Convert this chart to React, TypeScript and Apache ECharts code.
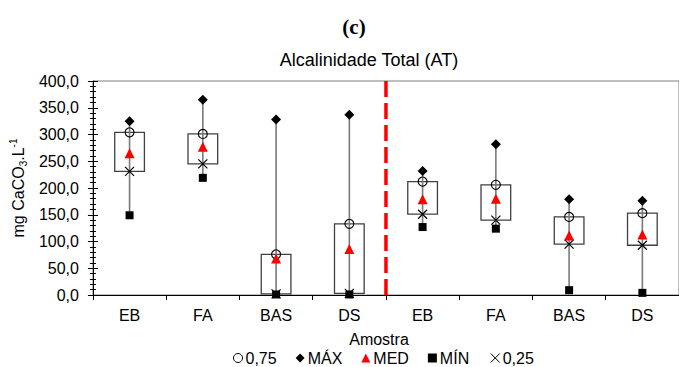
import React, { useEffect, useRef } from "react";
import * as echarts from "echarts";

// ---- data ----
const categories = ["EB", "FA", "BAS", "DS", "EB", "FA", "BAS", "DS"];
const maxValues = [325, 365, 328, 337, 232, 282, 179, 176];
const q3Values = [304, 301, 76, 133, 212, 206, 146, 153];
const medValues = [265, 277, 68, 86, 179, 180, 111, 113];
const q1Values = [231, 245, 2, 3, 151, 140, 95, 93];
const minValues = [149, 219, 1, 1, 127, 124, 9, 4];
const yTicks = [0, 50, 100, 150, 200, 250, 300, 350, 400];
const DIVIDER_AFTER = 3; // dashed line after the 4th category

const Y_MIN = yTicks[0];
const Y_MAX = yTicks[yTicks.length - 1];
const Y_INTERVAL = yTicks[1] - yTicks[0];

const FONT = "'Liberation Sans', Arial, sans-serif";
const X_PATH = "path://M0,0L10,10M10,0L0,10";

export default function App() {
  const ref = useRef<HTMLDivElement>(null);

  useEffect(() => {
    document.body.style.margin = "0";
    if (!ref.current) return;
    const chart = echarts.init(ref.current, null, { renderer: "svg" });

    const boxData = categories.map((_, i) => [i, minValues[i], maxValues[i], q1Values[i], q3Values[i]]);
    const pts = (arr: number[]) => arr.map((v, i) => [i, v]);

    const yAxisBase = {
      type: "value",
      min: Y_MIN,
      max: Y_MAX,
      interval: Y_INTERVAL,
      splitLine: { show: false },
    };

    const option: any = {
      animation: false,
      title: [
        {
          text: "(c)",
          left: 354,
          top: 16,
          padding: 0,
          textAlign: "center",
          textStyle: { fontFamily: "'Liberation Serif', 'Times New Roman', serif", fontWeight: "bold", fontSize: 21, color: "#000" },
        },
        {
          text: "Alcalinidade Total (AT)",
          left: 369,
          top: 51,
          padding: 0,
          textAlign: "center",
          textStyle: { fontFamily: FONT, fontWeight: "normal", fontSize: 18, color: "#000" },
        },
        {
          text: "Amostra",
          left: 379,
          top: 331,
          padding: 0,
          textAlign: "center",
          textStyle: { fontFamily: FONT, fontWeight: "normal", fontSize: 16, color: "#000" },
        },
      ],
      legend: {
        left: 233,
        top: 350,
        padding: 0,
        itemWidth: 9,
        itemHeight: 9,
        itemGap: 19,
        textStyle: { fontFamily: FONT, fontSize: 16, color: "#000", padding: [0, 0, 0, -2] },
        data: [
          { name: "0,75", icon: "circle", itemStyle: { color: "#fff", borderColor: "#000", borderWidth: 1, opacity: 1 } },
          { name: "MÁX", icon: "diamond", itemStyle: { color: "#000", borderWidth: 0, opacity: 1 } },
          { name: "MED", icon: "triangle", itemStyle: { color: "#ff0000", borderWidth: 0, opacity: 1 } },
          { name: "MÍN", icon: "rect", itemStyle: { color: "#000", borderWidth: 0, opacity: 1 } },
          { name: "0,25", icon: X_PATH, itemStyle: { color: "none", borderColor: "#000", borderWidth: 1, opacity: 1 } },
        ],
      },
      grid: {
        left: 91,
        top: 81,
        width: 598,
        height: 214,
        show: true,
        borderColor: "#7f7f7f",
        borderWidth: 1,
        backgroundColor: "transparent",
      },
      xAxis: {
        type: "category",
        data: categories,
        axisLine: { lineStyle: { color: "#000", width: 1 } },
        axisTick: { show: true, length: 5, lineStyle: { color: "#000" } },
        axisLabel: { fontFamily: FONT, fontSize: 16, color: "#000", margin: 12, interval: 0 },
        splitLine: { show: false },
      },
      yAxis: [
        {
          ...yAxisBase,
          name: "mg CaCO{sub|3}.L{sup|-1}",
          nameLocation: "middle",
          nameGap: 54,
          nameRotate: 90,
          nameTextStyle: {
            fontFamily: FONT,
            fontSize: 16,
            color: "#000",
            lineHeight: 20,
            rich: {
              sub: { fontFamily: FONT, fontSize: 10, color: "#000", lineHeight: 20, verticalAlign: "bottom", padding: [10, 0, 0, 0] },
              sup: { fontFamily: FONT, fontSize: 10, color: "#000", lineHeight: 20, verticalAlign: "top", padding: [0, 0, 8, 0] },
            },
          },
          axisLine: { show: true, lineStyle: { color: "#000", width: 1 } },
          axisTick: { show: true, length: 5, lineStyle: { color: "#000" } },
          minorTick: { show: true, splitNumber: 5, length: 3, lineStyle: { color: "#000" } },
          axisLabel: {
            fontFamily: FONT,
            fontSize: 16,
            color: "#000",
            margin: 14,
            formatter: (v: number) => v.toFixed(1).replace(".", ","),
          },
        },
        {
          ...yAxisBase,
          position: "left",
          offset: 0,
          axisLine: { show: false },
          axisTick: { show: true, inside: true, length: 5, lineStyle: { color: "#000" } },
          minorTick: { show: true, splitNumber: 5, length: 3, lineStyle: { color: "#000" } },
          axisLabel: { show: false },
        },
      ],
      series: [
        {
          type: "custom",
          name: "box",
          z: 2,
          data: boxData,
          encode: { x: 0, y: [1, 2, 3, 4] },
          renderItem: (params: any, api: any) => {
            const i = api.value(0);
            const pMin = api.coord([i, api.value(1)]);
            const pMax = api.coord([i, api.value(2)]);
            const pQ1 = api.coord([i, api.value(3)]);
            const pQ3 = api.coord([i, api.value(4)]);
            const bw = api.size([1, 0])[0] * 0.405;
            return {
              type: "group",
              children: [
                {
                  type: "rect",
                  shape: { x: pQ1[0] - bw / 2, y: pQ3[1], width: bw, height: pQ1[1] - pQ3[1] },
                  style: { fill: "none", stroke: "#404040", lineWidth: 1.3 },
                },
                {
                  type: "line",
                  shape: { x1: pMin[0], y1: pMin[1], x2: pMax[0], y2: pMax[1] },
                  style: { stroke: "#7a7a7a", lineWidth: 1.6 },
                },
              ],
            };
          },
        },
        {
          type: "custom",
          name: "divider",
          z: 2,
          data: [[DIVIDER_AFTER, Y_MIN]],
          encode: { x: 0, y: 1 },
          renderItem: (params: any, api: any) => {
            const i = api.value(0);
            const p0 = api.coord([i, Y_MIN]);
            const p1 = api.coord([i, Y_MAX]);
            const x = p0[0] + api.size([1, 0])[0] / 2;
            return {
              type: "line",
              shape: { x1: x, y1: p1[1], x2: x, y2: p0[1] },
              style: { stroke: "#ff0000", lineWidth: 3.5, lineDash: [16, 6] },
            };
          },
        },
        {
          type: "scatter",
          name: "0,25",
          z: 3,
          symbol: X_PATH,
          symbolSize: 9,
          itemStyle: { color: "none", borderColor: "#000", borderWidth: 1.2, opacity: 1 },
          data: pts(q1Values),
        },
        {
          type: "scatter",
          name: "0,75",
          z: 4,
          symbol: "circle",
          symbolSize: 9,
          itemStyle: { color: "rgba(0,0,0,0)", borderColor: "#000", borderWidth: 1.1, opacity: 1 },
          data: pts(q3Values),
        },
        {
          type: "scatter",
          name: "MÁX",
          z: 4,
          symbol: "diamond",
          symbolSize: 10,
          itemStyle: { color: "#000", opacity: 1 },
          data: pts(maxValues),
        },
        {
          type: "scatter",
          name: "MÍN",
          z: 4,
          symbol: "rect",
          symbolSize: 8,
          itemStyle: { color: "#000", opacity: 1 },
          data: pts(minValues),
        },
        {
          type: "scatter",
          name: "MED",
          z: 5,
          symbol: "triangle",
          symbolSize: 10,
          itemStyle: { color: "#ff0000", opacity: 1 },
          data: pts(medValues),
        },
      ],
    };

    chart.setOption(option);
    return () => chart.dispose();
  }, []);

  return <div ref={ref} style={{ width: 679, height: 367 }} />;
}
